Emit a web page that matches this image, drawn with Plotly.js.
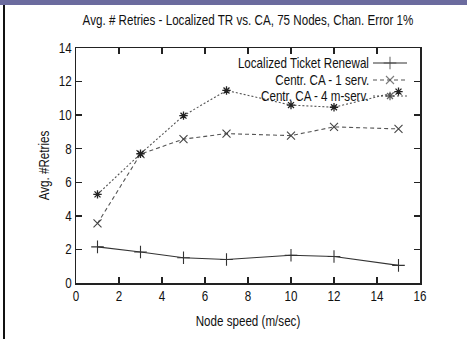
<!DOCTYPE html>
<html>
<head>
<meta charset="utf-8">
<script src="https://cdn.plot.ly/plotly-3.0.1.min.js"></script>
<style>
  html, body { margin:0; padding:0; background:#fff; }
  #wrap { position:relative; width:467px; height:339px; overflow:hidden; }
  #bar { position:absolute; left:0; top:0; width:467px; height:5px; background:#6b6b9e; z-index:2; }
  #edge { position:absolute; left:3px; top:5px; width:2px; height:334px; background:#111; z-index:2; }
  #plot { position:absolute; left:0; top:0; width:467px; height:339px; }
</style>
</head>
<body>
<div id="wrap">
  <div id="plot"></div>
  <div id="bar"></div>
  <div id="edge"></div>
</div>
<script>
// ---- data ----
const speeds = [1, 3, 5, 7, 10, 12, 15];
const localizedTR = [2.15, 1.85, 1.5, 1.4, 1.65, 1.58, 1.05];
const centrCA1 = [3.55, 7.68, 8.57, 8.9, 8.78, 9.3, 9.18];
const centrCA4 = [5.28, 7.7, 9.97, 11.47, 10.6, 10.47, 11.4];
const seriesNames = ["Localized Ticket Renewal", "Centr. CA - 1 serv.", "Centr. CA - 4 m-serv."];
const titleText = "Avg. # Retries - Localized TR vs. CA, 75 Nodes, Chan. Error 1%";
const xTitle = "Node speed (m/sec)";
const yTitle = "Avg. #Retries";
const xTicks = [0, 2, 4, 6, 8, 10, 12, 14, 16];
const yTicks = [0, 2, 4, 6, 8, 10, 12, 14];

// ---- styles ----
const FONT = "'Liberation Sans', Arial, sans-serif";
const FS = 14;
const styles = [
  {line:{color:'#333', width:1.1, dash:'solid'}, marker:{symbol:'cross-thin-open', size:9, color:'#333', line:{width:1.1, color:'#333'}}},
  {line:{color:'#555', width:1.1, dash:'4px,3px'}, marker:{symbol:'x-thin-open', size:8, color:'#444', line:{width:1.1, color:'#444'}}},
  {line:{color:'#555', width:1.1, dash:'2px,2px'}, marker:{symbol:'asterisk-open', size:7, color:'#222', line:{width:1.3, color:'#222'}}}
];
const seriesData = [localizedTR, centrCA1, centrCA4];

const traces = seriesData.map((ys, i) => ({
  type:'scatter', mode:'lines+markers', x:speeds, y:ys, name:seriesNames[i],
  line:styles[i].line, marker:styles[i].marker, showlegend:false, cliponaxis:false
}));

// legend (gnuplot-style: text right, sample at right) on pixel overlay axis
const legX0 = 373, legX1 = 407, legTextX = 371;
const legYs = [63, 80, 96];
const annotations = [];
seriesNames.forEach((n, i) => {
  traces.push({
    type:'scatter', mode:'lines+markers', xaxis:'x2', yaxis:'y2',
    x:[legX0, (legX0+legX1)/2, legX1], y:[legYs[i], legYs[i], legYs[i]],
    line:styles[i].line,
    marker:Object.assign({}, styles[i].marker, {size:[0, styles[i].marker.size, 0]}),
    showlegend:false, hoverinfo:'skip', cliponaxis:false
  });
  annotations.push({
    xref:'x2', yref:'y2', x:legTextX, y:legYs[i], xanchor:'right', yanchor:'middle',
    text:n, showarrow:false, font:{family:FONT, size:FS, color:'#111'}
  });
});

const axisCommon = {
  showline:true, linecolor:'#222', linewidth:1.5, mirror:'allticks',
  ticks:'inside', ticklen:6, tickwidth:1.3, tickcolor:'#222',
  showgrid:false, zeroline:false, fixedrange:true,
  tickfont:{family:FONT, size:FS, color:'#111'}
};

const layout = {
  width:467, height:339,
  margin:{l:76, r:47, t:48, b:56},
  paper_bgcolor:'#fff', plot_bgcolor:'#fff',
  title:{text:titleText, font:{family:FONT, size:FS, color:'#111'}, x:0.5, xanchor:'center', y:0.94, yanchor:'middle', xref:'paper'},
  xaxis:Object.assign({}, axisCommon, {range:[0,16], tickvals:xTicks, ticktext:xTicks.map(String),
    title:{text:xTitle, font:{family:FONT, size:FS, color:'#111'}, standoff:13}}),
  yaxis:Object.assign({}, axisCommon, {range:[0,14], tickvals:yTicks, ticktext:yTicks.map(String),
    title:{text:yTitle, font:{family:FONT, size:FS, color:'#111'}, standoff:3}}),
  xaxis2:{overlaying:'x', range:[76,420], visible:false, fixedrange:true},
  yaxis2:{overlaying:'y', range:[283,48], visible:false, fixedrange:true},
  annotations:annotations,
  showlegend:false
};

// emulate the narrow (Helvetica-Narrow-like) face of the original by
// condensing each text horizontally about its anchor point
function condense(gd) {
  const SQ = 0.83;
  gd.querySelectorAll('svg text').forEach(t => {
    if (!t.textContent) return;
    const bb = t.getBBox();
    if (!(bb.width > 0)) return;
    let a;
    if (t.closest('.annotation-text-g')) {
      a = bb.x + bb.width;              // right-aligned key text
    } else {
      const anc = t.getAttribute('text-anchor') || getComputedStyle(t).textAnchor;
      if (anc === 'middle') a = bb.x + bb.width / 2;
      else if (anc === 'end') a = bb.x + bb.width;
      else a = bb.x;
    }
    const prev = t.getAttribute('transform') || '';
    t.setAttribute('transform', (prev + ` translate(${a.toFixed(2)},0) scale(${SQ},1) translate(${(-a).toFixed(2)},0)`).trim());
  });
}

Plotly.newPlot('plot', traces, layout, {staticPlot:true, displayModeBar:false}).then(condense);
</script>
</body>
</html>
